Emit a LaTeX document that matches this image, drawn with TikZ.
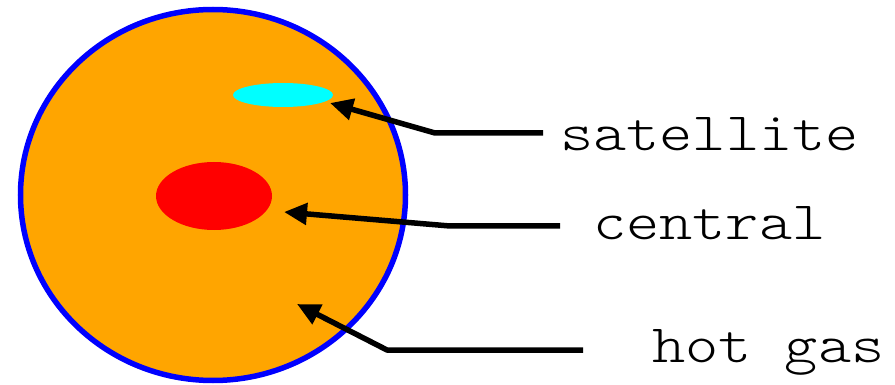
\documentclass[tikz,border=0pt]{standalone}
\usepackage{fontspec}
\setmonofont[FakeStretch=1.17]{Latin Modern Mono Light}
\usetikzlibrary{arrows.meta,shapes.geometric}
\definecolor{halo}{RGB}{255,165,0}
\definecolor{rim}{RGB}{0,0,255}
\definecolor{sat}{RGB}{0,255,255}
\definecolor{cen}{RGB}{255,0,0}
\tikzset{
  pointer/.style={draw=black,line width=5.5pt,line join=round,-{Triangle[length=23pt,width=21pt]}},
  lbl/.style={inner sep=0pt,anchor=base west,font=\ttfamily\fontsize{54}{60}\selectfont}
}
\begin{document}
\begin{tikzpicture}[x=1pt,y=-1pt]
\useasboundingbox (0,0) rectangle (895,385);
\node[ellipse,fill=halo,draw=rim,line width=5.5pt,minimum width=385pt,minimum height=371pt,inner sep=0pt] (gas) at (213,195) {};
\node[ellipse,fill=sat,minimum width=100pt,minimum height=24pt,inner sep=0pt] (satellite) at (283,95) {};
\node[ellipse,fill=cen,minimum width=116pt,minimum height=68pt,inner sep=0pt] (central) at (214,196) {};
\node[lbl] (tsat) at (560,151) {satellite};
\node[lbl] (tcen) at (593,240) {central};
\node[lbl] (tgas) at (652,362) {hot gas};
\coordinate (s0) at (543,133);
\coordinate (s1) at (435,133);
\coordinate (s2) at (330,103);
\coordinate (c0) at (560,226);
\coordinate (c1) at (450,226);
\coordinate (c2) at (284,212);
\coordinate (g0) at (583,350);
\coordinate (g1) at (387,350);
\coordinate (g2) at (297,304);
\draw[pointer] (s0) -- (s1) -- (s2);
\draw[pointer] (c0) -- (c1) -- (c2);
\draw[pointer] (g0) -- (g1) -- (g2);
\end{tikzpicture}
\end{document}
